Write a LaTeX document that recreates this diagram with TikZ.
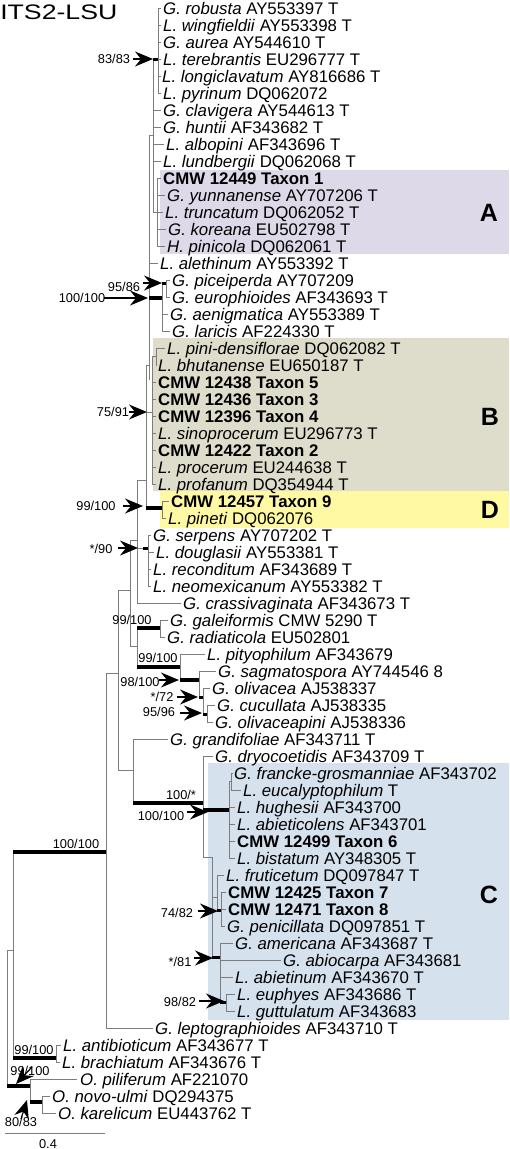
\documentclass[tikz,border=0pt]{standalone}
\usepackage{fontspec}
\setmainfont{Liberation Sans}
\usetikzlibrary{arrows.meta}
\definecolor{boxA}{RGB}{221,217,232}
\definecolor{boxB}{RGB}{222,220,203}
\definecolor{boxC}{RGB}{214,225,238}
\definecolor{boxD}{RGB}{254,249,162}
\definecolor{brc}{RGB}{125,125,125}
\newcommand\tx[4]{\node[lbl] (#1) at (#2,{17*#3-3}) {#4};}
\begin{document}
\begin{tikzpicture}[x=1pt,y=-1pt,
  lbl/.style={anchor=base west,inner sep=0pt,font=\fontsize{16.8}{17}\selectfont},
  sup/.style={anchor=base,inner sep=0pt,font=\fontsize{12.8}{13}\selectfont},
  br/.style={draw=brc,line width=0.9pt},
  thk/.style={draw=black,line width=4pt},
  mk/.style={draw=black,line width=3pt},
  arr/.style={-{Stealth[length=18pt,width=15pt,inset=6pt]},line width=1.2pt},
  cladeletter/.style={inner sep=0pt,font=\bfseries\fontsize{25}{25}\selectfont}]
\fill[white] (0,0) rectangle (509,1149);
\useasboundingbox (0,0) rectangle (509,1149);
% clade boxes
\fill[boxA] (160,170) rectangle (509,254);
\fill[boxB] (153,338) rectangle (509,491);
\fill[boxD] (160,491) rectangle (509,528);
\fill[boxC] (208,763) rectangle (509,1020);
\node[cladeletter] (cA) at (489,213) {A};
\node[cladeletter] (cB) at (490,417) {B};
\node[cladeletter] (cD) at (490,510) {D};
\node[cladeletter] (cC) at (489,895) {C};
% title
\node[anchor=west,inner sep=0pt,font=\fontsize{21}{21}\selectfont,xscale=1.27,transform shape] (title) at (0,12) {ITS2-LSU};
% taxon labels
\tx{t1}{163}{1}{\textit{G. robusta} AY553397 T}
\tx{t2}{163}{2}{\textit{L. wingfieldii} AY553398 T}
\tx{t3}{163}{3}{\textit{G. aurea} AY544610 T}
\tx{t4}{163}{4}{\textit{L. terebrantis} EU296777 T}
\tx{t5}{162}{5}{\textit{L. longiclavatum} AY816686 T}
\tx{t6}{163}{6}{\textit{L. pyrinum} DQ062072}
\tx{t7}{163}{7}{\textit{G. clavigera} AY544613 T}
\tx{t8}{163}{8}{\textit{G. huntii} AF343682 T}
\tx{t9}{166}{9}{\textit{L. albopini} AF343696 T}
\tx{t10}{163}{10}{\textit{L. lundbergii} DQ062068 T}
\tx{t11}{163}{11}{\textbf{CMW 12449 Taxon 1}}
\tx{t12}{167}{12}{\textit{G. yunnanense} AY707206 T}
\tx{t13}{165}{13}{\textit{L. truncatum} DQ062052 T}
\tx{t14}{168}{14}{\textit{G. koreana} EU502798 T}
\tx{t15}{167}{15}{\textit{H. pinicola} DQ062061 T}
\tx{t16}{160}{16}{\textit{L. alethinum} AY553392 T}
\tx{t17}{172}{17}{\textit{G. piceiperda} AY707209}
\tx{t18}{172}{18}{\textit{G. europhioides} AF343693 T}
\tx{t19}{170}{19}{\textit{G. aenigmatica} AY553389 T}
\tx{t20}{172}{20}{\textit{G. laricis} AF224330 T}
\tx{t21}{167}{21}{\textit{L. pini-densiflorae} DQ062082 T}
\tx{t22}{158}{22}{\textit{L. bhutanense} EU650187 T}
\tx{t23}{158}{23}{\textbf{CMW 12438 Taxon 5}}
\tx{t24}{158}{24}{\textbf{CMW 12436 Taxon 3}}
\tx{t25}{158}{25}{\textbf{CMW 12396 Taxon 4}}
\tx{t26}{158}{26}{\textit{L. sinoprocerum} EU296773 T}
\tx{t27}{158}{27}{\textbf{CMW 12422 Taxon 2}}
\tx{t28}{158}{28}{\textit{L. procerum} EU244638 T}
\tx{t29}{158}{29}{\textit{L. profanum} DQ354944 T}
\tx{t30}{171}{30}{\textbf{CMW 12457 Taxon 9}}
\tx{t31}{168}{31}{\textit{L. pineti} DQ062076}
\tx{t32}{153}{32}{\textit{G. serpens} AY707202 T}
\tx{t33}{156}{33}{\textit{L. douglasii} AY553381 T}
\tx{t34}{153}{34}{\textit{L. reconditum} AF343689 T}
\tx{t35}{153}{35}{\textit{L. neomexicanum} AY553382 T}
\tx{t36}{183}{36}{\textit{G. crassivaginata} AF343673 T}
\tx{t37}{170}{37}{\textit{G. galeiformis} CMW 5290 T}
\tx{t38}{167}{38}{\textit{G. radiaticola} EU502801}
\tx{t39}{207}{39}{\textit{L. pityophilum} AF343679}
\tx{t40}{218}{40}{\textit{G. sagmatospora} AY744546 8}
\tx{t41}{212}{41}{\textit{G. olivacea} AJ538337}
\tx{t42}{217}{42}{\textit{G. cucullata} AJ538335}
\tx{t43}{215}{43}{\textit{G. olivaceapini} AJ538336}
\tx{t44}{170}{44}{\textit{G. grandifoliae} AF343711 T}
\tx{t45}{215}{45}{\textit{G. dryocoetidis} AF343709 T}
\tx{t46}{234}{46}{\textit{G. francke-grosmanniae} AF343702}
\tx{t47}{243}{47}{\textit{L. eucalyptophilum} T}
\tx{t48}{237}{48}{\textit{L. hughesii} AF343700}
\tx{t49}{237}{49}{\textit{L. abieticolens} AF343701}
\tx{t50}{237}{50}{\textbf{CMW 12499 Taxon 6}}
\tx{t51}{237}{51}{\textit{L. bistatum} AY348305 T}
\tx{t52}{226}{52}{\textit{L. fruticetum} DQ097847 T}
\tx{t53}{228}{53}{\textbf{CMW 12425 Taxon 7}}
\tx{t54}{228}{54}{\textbf{CMW 12471 Taxon 8}}
\tx{t55}{227}{55}{\textit{G. penicillata} DQ097851 T}
\tx{t56}{235}{56}{\textit{G. americana} AF343687 T}
\tx{t57}{283}{57}{\textit{G. abiocarpa} AF343681}
\tx{t58}{235}{58}{\textit{L. abietinum} AF343670 T}
\tx{t59}{237}{59}{\textit{L. euphyes} AF343686 T}
\tx{t60}{237}{60}{\textit{L. guttulatum} AF343683}
\tx{t61}{155}{61}{\textit{G. leptographioides} AF343710 T}
\tx{t62}{63}{62}{\textit{L. antibioticum} AF343677 T}
\tx{t63}{62}{63}{\textit{L. brachiatum} AF343676 T}
\tx{t64}{80}{64}{\textit{O. piliferum} AF221070}
\tx{t65}{52}{65}{\textit{O. novo-ulmi} DQ294375}
\tx{t66}{58}{66}{\textit{O. karelicum} EU443762 T}
% ---------------- branches ----------------
% top group
\draw[br] (158,8)--(158,93);
\foreach \y in {8,25,42,59,76,93} \draw[br] (158,\y)--(161,\y);
\draw[br] (153,59)--(153,212);
\foreach \y/\e in {110/161,127/161,144/164,161/161} \draw[br] (153,\y)--(\e,\y);
\draw[br] (157,178)--(157,246) (153,212)--(157,212);
\foreach \y/\e in {178/161,195/165,212/163,229/166,246/165} \draw[br] (157,\y)--(\e,\y);
\draw[mk] (153,59)--(158,59);
\draw[br] (149,135)--(149,380) (149,135)--(153,135);
\draw[br] (149,263)--(158,263);
\draw[br] (162,283)--(162,331) (166,280)--(166,297);
\draw[br] (166,280)--(170,280) (166,297)--(170,297) (162,314)--(168,314) (162,331)--(170,331);
\draw[mk] (162,283)--(166,283);
\draw[thk] (149,298)--(162,298);
% B clade
\draw[br] (146,365)--(146,508) (146,365)--(149,365);
\draw[br] (146,412)--(152,412) (152,356)--(152,484) (152,356)--(156,356) (156,348)--(156,365);
\draw[br] (156,348)--(165,348) (156,365)--(157,365);
\foreach \y in {382,399,416,433,450,467,484} \draw[br] (152,\y)--(156,\y);
% D clade
\draw[br] (162,501)--(162,518) (162,501)--(169,501) (162,518)--(166,518);
\draw[thk] (146,508)--(162,508);
% serpens group etc.
\draw[br] (137,480)--(137,603) (137,480)--(146,480);
\draw[br] (137,548)--(143,548) (148,535)--(148,586);
\draw[br] (148,535)--(151,535) (148,552)--(154,552) (148,569)--(151,569) (148,586)--(151,586);
\draw[mk] (143,548)--(148,548);
\draw[br] (137,603)--(181,603);
\draw[br] (130,540)--(130,646) (130,540)--(137,540) (130,646)--(137,646) (137,628)--(137,667);
\draw[br] (160,620)--(160,637) (160,620)--(168,620) (160,637)--(165,637);
\draw[thk] (137,628)--(160,628);
\draw[br] (180,654)--(180,680) (180,654)--(205,654);
\draw[thk] (137,667)--(180,667);
\draw[thk] (180,680)--(199,680);
\draw[br] (199,671)--(199,697) (199,671)--(216,671);
\draw[br] (203,688)--(203,714) (203,688)--(210,688);
\draw[br] (207,705)--(207,722) (207,705)--(215,705) (207,722)--(213,722);
\draw[mk] (199,697)--(203,697);
\draw[mk] (203,714)--(207,714);
% backbone
\draw[br] (118,590)--(118,770) (118,590)--(130,590);
\draw[br] (133,739)--(133,803) (118,770)--(133,770) (133,739)--(168,739);
\draw[br] (106,673)--(106,1028) (106,673)--(118,673) (106,1028)--(153,1028);
% C clade
\draw[br] (203,756)--(203,857) (203,756)--(213,756);
\draw[br] (229,781)--(229,858) (229,781)--(231,781) (231,773)--(231,790);
\draw[br] (231,773)--(233,773) (231,790)--(241,790);
\foreach \y in {807,824,841,858} \draw[br] (229,\y)--(235,\y);
\draw[thk] (133,803)--(203,803);
\draw[thk] (203,810)--(229,810);
\draw[br] (203,857)--(212,857) (212,857)--(212,957);
\draw[br] (212,897)--(217,897) (217,875)--(217,910) (217,875)--(224,875);
\draw[br] (221,892)--(221,926) (221,892)--(226,892) (221,909)--(226,909) (221,926)--(225,926);
\draw[mk] (217,910)--(221,910);
\draw[br] (220,943)--(220,1002) (220,943)--(233,943) (220,960)--(281,960) (220,977)--(233,977);
\draw[br] (226,994)--(226,1011) (226,994)--(235,994) (226,1011)--(235,1011);
\draw[mk] (212,957)--(220,957);
\draw[mk] (220,1002)--(226,1002);
% root region
\draw[br] (13,852)--(13,1058) (7,950)--(7,1086) (7,950)--(13,950);
\draw[br] (56,1045)--(56,1062) (56,1045)--(61,1045) (56,1062)--(60,1062);
\draw[br] (30,1079)--(30,1102) (30,1079)--(77,1079);
\draw[br] (42,1096)--(42,1113) (42,1096)--(50,1096) (42,1113)--(56,1113);
\draw[thk] (13,852)--(106,852);
\draw[thk] (13,1058)--(56,1058);
\draw[thk] (7,1086)--(30,1086);
\draw[thk] (30,1102)--(42,1102);
% scale bar
\draw[br] (5,1133)--(105,1133);
\node[sup] (scale) at (48,1148) {0.4};
% ---------------- support values ----------------
\node[sup] (s1) at (114,63.5) {83/83};
\draw[arr] (133,59)--(153,59);
\node[sup] (s2) at (124,291.5) {95/86};
\draw[arr] (143,283)--(162,283);
\node[sup] (s3) at (82,302.5) {100/100};
\draw[arr] (104,298)--(148,298);
\node[sup] (s4) at (113,416.5) {75/91};
\draw[arr] (129,412)--(147,412);
\node[sup] (s5) at (96,510.5) {99/100};
\draw[arr] (123,506)--(143,506);
\node[sup] (s6) at (101,553.5) {*/90};
\draw[arr] (118,548)--(138,548);
\node[sup] (s7) at (132,624) {99/100};
\node[sup] (s8) at (158,662) {99/100};
\node[sup] (s9) at (140,686.5) {98/100};
\draw[arr] (159,680)--(179,680);
\node[sup] (s10) at (162,701.5) {*/72};
\draw[arr] (177,697)--(198,697);
\node[sup] (s11) at (159,716) {95/96};
\draw[arr] (180,713)--(202,713);
\node[sup] (s12) at (181,799) {100/*};
\node[sup] (s13) at (161,820.5) {100/100};
\draw[arr] (187,812)--(208,812);
\node[sup] (s14) at (76,848) {100/100};
\node[sup] (s15) at (177,917.5) {74/82};
\draw[arr] (198,911)--(218,911);
\node[sup] (s16) at (180,966.5) {*/81};
\draw[arr] (194,958)--(213,958);
\node[sup] (s17) at (180,1006.5) {98/82};
\draw[arr] (199,1001)--(224,1001);
\node[sup] (s18) at (34,1054) {99/100};
\node[sup] (s19) at (30,1075.5) {99/100};
\draw[arr] (32,1067)--(16,1084);
\node[sup] (s20) at (21,1126.5) {80/83};
\draw[arr] (21,1119)--(27,1100);
\end{tikzpicture}
\end{document}
